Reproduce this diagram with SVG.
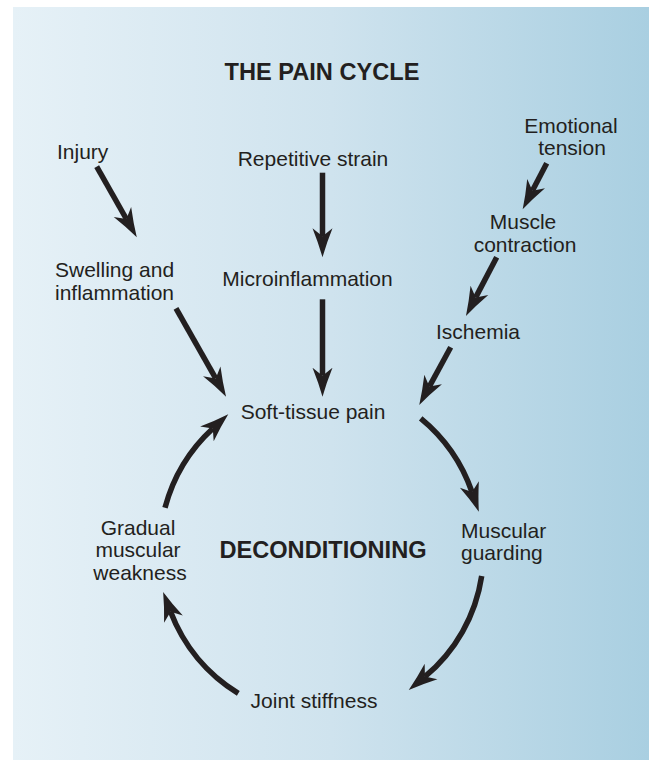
<svg xmlns="http://www.w3.org/2000/svg" width="649" height="760" viewBox="0 0 649 760">
<style>
.t{font-family:"Liberation Sans",Arial,sans-serif;font-size:21px;fill:#231f20}
.b{font-family:"Liberation Sans",Arial,sans-serif;font-size:23.6px;font-weight:bold;fill:#231f20}
.m{text-anchor:middle}
.c{fill:none;stroke:#231f20;stroke-width:5.5;stroke-linecap:butt}
</style>
<defs>
<linearGradient id="bg" x1="0" y1="0" x2="1" y2="0">
<stop offset="0" stop-color="#e6f1f7"/>
<stop offset="0.5" stop-color="#cfe3ee"/>
<stop offset="1" stop-color="#a9cfe1"/>
</linearGradient>
<marker id="ah" markerUnits="userSpaceOnUse" markerWidth="32" markerHeight="24" viewBox="0 -12 32 24" refX="8" refY="0" orient="auto">
<path d="M0,-10 Q15,-4 29,0 Q15,4 0,10 L8,0 Z" fill="#231f20"/>
</marker>
</defs>
<rect x="13" y="7" width="636" height="753" fill="url(#bg)"/>
<text class="b m" x="322" y="80">THE PAIN CYCLE</text>
<g id="injury"><text class="t" x="57" y="159">Injury</text></g>
<g id="swelling"><text class="t" x="55" y="277">Swelling and</text><text class="t" x="55" y="300">inflammation</text></g>
<g id="repetitive"><text class="t m" x="313" y="166">Repetitive strain</text></g>
<g id="micro"><text class="t m" x="307.5" y="286">Microinflammation</text></g>
<g id="emotional"><text class="t m" x="571" y="133">Emotional</text><text class="t m" x="572" y="155">tension</text></g>
<g id="contraction"><text class="t m" x="523" y="229">Muscle</text><text class="t m" x="525" y="252">contraction</text></g>
<g id="ischemia"><text class="t m" x="478" y="339">Ischemia</text></g>
<g id="pain"><text class="t m" x="313" y="419">Soft-tissue pain</text></g>
<g id="guarding"><text class="t" x="461" y="538">Muscular</text><text class="t" x="461" y="560">guarding</text></g>
<g id="weakness"><text class="t m" x="138" y="535">Gradual</text><text class="t m" x="138" y="557">muscular</text><text class="t m" x="140" y="580">weakness</text></g>
<g id="stiffness"><text class="t m" x="314" y="708">Joint stiffness</text></g>
<g id="decond"><text class="b m" x="323" y="558">DECONDITIONING</text></g>
<g id="connectors">
<path class="c" marker-end="url(#ah)" d="M96.7,166.7 L126.4,219"/>
<path class="c" marker-end="url(#ah)" d="M176,308.3 L215.7,378.4"/>
<path class="c" marker-end="url(#ah)" d="M322.5,172.7 L322.5,236.3"/>
<path class="c" marker-end="url(#ah)" d="M322.5,299.3 L322.5,375.7"/>
<path class="c" marker-end="url(#ah)" d="M546.7,163.3 L532.4,190.7"/>
<path class="c" marker-end="url(#ah)" d="M496.7,257.3 L475.7,297.4"/>
<path class="c" marker-end="url(#ah)" d="M450.7,347.3 L429.3,386.6"/>
<path class="c" marker-end="url(#ah)" d="M420.7,418.3 A165,165 0 0 1 472,492"/>
<path class="c" marker-end="url(#ah)" d="M481.7,576 A162,162 0 0 1 424.9,676.6"/>
<path class="c" marker-end="url(#ah)" d="M238.3,693.3 A164,164 0 0 1 170.6,611.7"/>
<path class="c" marker-end="url(#ah)" d="M165,507.7 A165,165 0 0 1 212.8,428.4"/>
</g>
</svg>
